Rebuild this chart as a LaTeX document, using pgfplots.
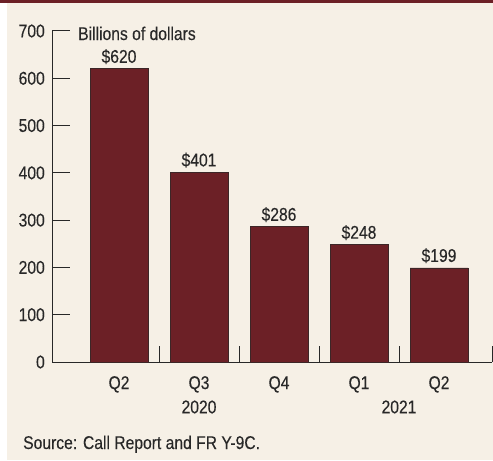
\documentclass[border=0pt]{standalone}
\usepackage{fontspec}
\setmainfont{Liberation Sans}[FakeStretch=0.85, FakeBold=0.2]
\usepackage{pgfplots}
\pgfplotsset{compat=1.18}
\definecolor{bg}{RGB}{246,240,230}
\definecolor{barred}{RGB}{108,32,38}
\definecolor{ink}{RGB}{40,40,40}

\begin{document}
\begin{tikzpicture}[font=\fontsize{18.5}{21}\selectfont]
\useasboundingbox (0,0) rectangle (493bp,461bp);
\fill[white] (0,0) rectangle (493bp,461bp);
\fill[bg] (7bp,1bp) rectangle (493bp,459bp);
\fill[barred] (0,458bp) rectangle (493bp,461bp);
\begin{axis}[
    at={(52bp,99bp)}, anchor=south west,
    x=80bp, y=0.47286bp,
    xmin=-0.8375, xmax=4.6625, ymin=0, ymax=700,
    axis lines*=left,
    axis line style={ink, line width=1bp},
    every tick/.style={ink, line width=1bp},
    tick align=inside,
    major tick length=18bp,
    ytick={0,100,...,700},
    yticklabel style={inner sep=0pt, xshift=-7bp, text=ink},
    xtick={0,1,2,3,4},
    xticklabels={Q2,Q3,Q4,Q1,Q2},
    xtick style={draw=none},
    xticklabel style={inner sep=0pt, anchor=north, yshift=4bp, text=ink},
    extra x ticks={0.5,1.5,2.5,3.5,4.6625},
    extra x tick labels={},
    extra x tick style={tick align=inside, major tick length=16bp, xtick style={draw=ink}},
    /pgf/number format/assume math mode=true,
    ybar, bar width=58bp,
    nodes near coords={\$\pgfmathprintnumber{\pgfplotspointmeta}},
    every node near coord/.append style={anchor=base, inner sep=0pt, yshift=6bp, text=ink},
    clip=false,
]
\addplot[fill=barred, draw=ink!70!barred, line width=0.8bp] coordinates {
    (0,620) (1,401) (2,286) (3,248) (4,199)
};
\node[ink] at (axis cs:1,0) [yshift=-45bp] {2020};
\node[ink] at (axis cs:3.5,0) [yshift=-45bp] {2021};
\node[anchor=base west, inner sep=0pt, ink] at (axis cs:-0.8375,700) [xshift=26bp, yshift=-9bp] {Billions of dollars};
\end{axis}
\node[anchor=base west, inner sep=0pt, ink] at (23bp,12bp) {Source: Call Report and FR Y-9C.};
\end{tikzpicture}
\end{document}
